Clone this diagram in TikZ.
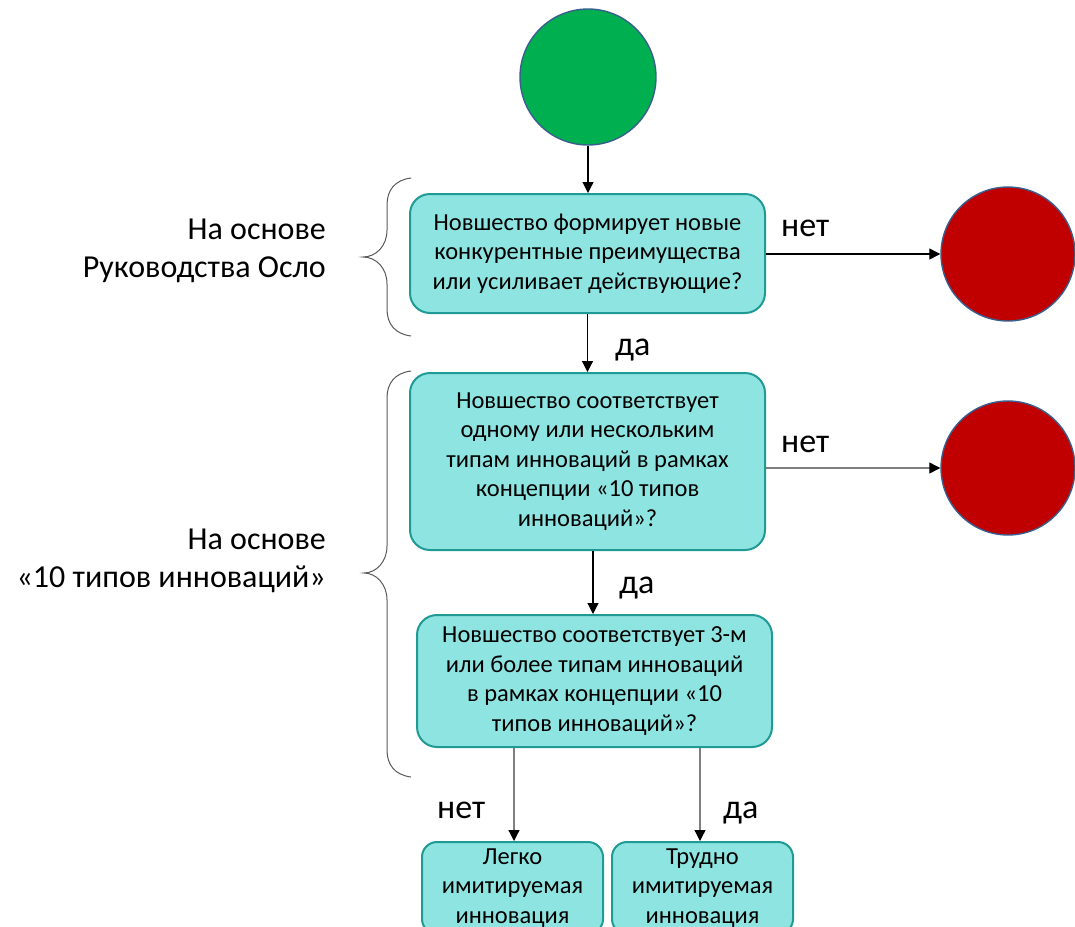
\documentclass[tikz,border=0pt]{standalone}
\usepackage{fontspec}
\setmainfont{Carlito}
\usetikzlibrary{arrows.meta}
\definecolor{boxfill}{HTML}{8EE4E0}
\definecolor{boxline}{HTML}{1F9A95}
\definecolor{okgreen}{HTML}{00B050}
\definecolor{stopred}{HTML}{C00000}
\definecolor{ringblue}{HTML}{3A5F8F}
\definecolor{bracegray}{HTML}{595959}
\definecolor{linegray}{HTML}{7F7F7F}
\begin{document}
\begin{tikzpicture}[x=1pt,y=-1pt,
  qbox/.style={draw=boxline, line width=2pt, fill=boxfill, rounded corners=20pt,
    align=center, font=\fontsize{24.5}{29.5}\selectfont, inner sep=0pt, text=black},
  endbox/.style={qbox, rounded corners=15pt, minimum width=181pt, minimum height=92pt},
  startdot/.style={circle, draw=ringblue, line width=1.4pt, fill=okgreen, minimum size=136pt, inner sep=0pt},
  stopdot/.style={circle, draw=ringblue, line width=1.4pt, fill=stopred, minimum size=134pt, inner sep=0pt},
  arr/.style={line width=1.2pt, draw=black, -{Triangle[width=11pt,length=11pt,color=black]}},
  arrg/.style={arr, draw=linegray},
  lbl/.style={font=\fontsize{34}{40}\selectfont, inner sep=0pt},
  side/.style={font=\fontsize{32}{38}\selectfont, align=right, inner sep=0pt},
  bracestyle/.style={draw=bracegray, line width=1pt}
]
\useasboundingbox (0,0) rectangle (1075,926);
\clip (0,0) rectangle (1075,926);

% start / stop circles
\node[startdot] (g) at (588,77) {};
\node[stopdot] (r1) at (1008,254) {};
\node[stopdot] (r2) at (1008,468) {};

% question boxes
\node[qbox, minimum width=355pt, minimum height=119pt] (b1) at (587.5,253.5)
  {Новшество формирует новые\\конкурентные преимущества\\или усиливает действующие?};
\node[qbox, minimum width=355pt, minimum height=177pt] (b2) at (587.5,461.5)
  {Новшество соответствует\\одному или нескольким\\типам инноваций в рамках\\концепции «10 типов\\инноваций»?};
\node[qbox, minimum width=355pt, minimum height=132pt] (b3) at (594.5,681)
  {Новшество соответствует 3-м\\или более типам инноваций\\в рамках концепции «10\\типов инноваций»?};

% result boxes
\node[endbox] (lo) at (512.5,888) {Легко\\имитируемая\\инновация};
\node[endbox] (hi) at (702.5,888) {Трудно\\имитируемая\\инновация};

% connectors
\draw[arr] (g.south) -- (g.south |- b1.north);
\draw[arr] (b1.south) -- (b1.south |- b2.north);
\draw[arr] ([xshift=5.5pt]b2.south) -- ([xshift=5.5pt]b2.south |- b3.north);
\draw[arrg] ([xshift=-80.5pt]b3.south) -- ([xshift=-80.5pt]b3.south |- lo.north);
\draw[arrg] ([xshift=105.5pt]b3.south) -- ([xshift=105.5pt]b3.south |- hi.north);
\draw[arr] (b1.east |- r1) -- (r1.west);
\draw[arrg] (b2.east |- r2) -- (r2.west);

% branch labels
\node[lbl, anchor=base west] (n1) at (781,236) {нет};
\node[lbl, anchor=base west] (n2) at (781,452) {нет};
\node[lbl, anchor=base west] (y1) at (615,355) {да};
\node[lbl, anchor=base west] (y2) at (619,593) {да};
\node[lbl, anchor=base west] (n3) at (437,818) {нет};
\node[lbl, anchor=base west] (y3) at (723,818) {да};

% side labels
\node[side, anchor=east] (s1) at (326,251) {На основе\\Руководства Осло};
\node[side, anchor=east] (s2) at (326,561) {На основе\\«10 типов инноваций»};

% braces
\draw[bracestyle] (411,178) .. controls (395,180) and (387,190) .. (387,205)
  -- (387,230) .. controls (387,246) and (376,257) .. (363,257)
  .. controls (376,257) and (387,268) .. (387,284)
  -- (387,309) .. controls (387,324) and (395,334) .. (411,336);
\draw[bracestyle] (411,371) .. controls (395,373) and (387,383) .. (387,398)
  -- (387,546) .. controls (387,562) and (376,573) .. (364,573)
  .. controls (376,573) and (387,584) .. (387,600)
  -- (387,750) .. controls (387,765) and (395,775) .. (411,777);
\end{tikzpicture}
\end{document}
